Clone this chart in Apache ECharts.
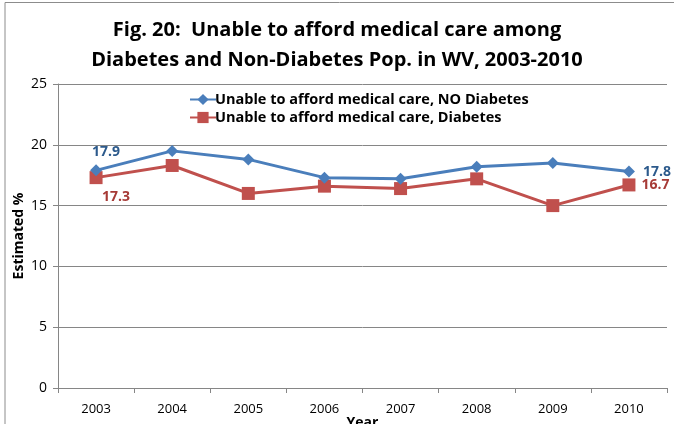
<!DOCTYPE html>
<html>
<head>
<meta charset="utf-8">
<script src="https://cdn.jsdelivr.net/npm/echarts@6/dist/echarts.min.js"></script>
<style>
  html, body { margin: 0; padding: 0; background: #fff; }
  #chart { width: 674px; height: 424px; }
</style>
</head>
<body>
<div id="chart"></div>
<script>
// Survey years on the category axis
const years = ['2003', '2004', '2005', '2006', '2007', '2008', '2009', '2010'];
// Estimated % unable to afford medical care
const noDiabetes = [17.9, 19.5, 18.8, 17.3, 17.2, 18.2, 18.5, 17.8];
const withDiabetes = [17.3, 18.3, 16.0, 16.6, 16.4, 17.2, 15.0, 16.7];
const seriesNames = [
  'Unable to afford medical care, NO Diabetes',
  'Unable to afford medical care, Diabetes'
];

const FONT = '"Open Sans", "Liberation Sans", sans-serif';
const BLUE = '#4A7EBB';
const RED = '#C0504D';
const BLUE_TEXT = '#2C5A8C';
const RED_TEXT = '#A63A36';

// Only the first and last points carry value labels
function endLabels(color, firstPos, lastPos, firstOffset, lastOffset) {
  return function (values) {
    return values.map((v, i) => {
      const item = { value: v };
      if (i === 0 || i === values.length - 1) {
        item.label = {
          show: true,
          position: i === 0 ? firstPos : lastPos,
          offset: i === 0 ? firstOffset : lastOffset,
          color: color,
          fontFamily: FONT,
          fontWeight: 'bold',
          fontSize: 14,
          formatter: (p) => p.value.toFixed(1)
        };
      }
      return item;
    });
  };
}

const chart = echarts.init(document.getElementById('chart'));
chart.setOption({
  animation: false,
  backgroundColor: '#fff',
  title: {
    text: 'Fig. 20:  Unable to afford medical care among\nDiabetes and Non-Diabetes Pop. in WV, 2003-2010',
    left: 'center',
    top: 10,
    textStyle: {
      fontFamily: FONT,
      fontWeight: 'bold',
      fontSize: 20,
      lineHeight: 30,
      color: '#000'
    }
  },
  graphic: [{
    type: 'polyline',
    shape: { points: [[5, 424], [5, 2.5], [674, 2.5]] },
    style: { stroke: '#8c8c8c', lineWidth: 1, fill: null },
    silent: true
  }],
  legend: {
    orient: 'vertical',
    left: 184,
    top: 87,
    itemGap: 3,
    itemWidth: 26,
    itemHeight: 14,
    textStyle: {
      fontFamily: FONT,
      fontWeight: 'bold',
      fontSize: 14.5,
      color: '#000',
      padding: [0, 0, 0, -6]
    },
    data: seriesNames
  },
  grid: { left: 58, right: 7, top: 84, bottom: 36, outerBoundsMode: 'none', containLabel: false },
  xAxis: {
    type: 'category',
    data: years,
    boundaryGap: true,
    name: 'Year',
    nameLocation: 'middle',
    nameGap: 28,
    nameMoveOverlap: false,
    nameTextStyle: { fontFamily: FONT, fontWeight: 'bold', fontSize: 14, color: '#000' },
    axisLine: { lineStyle: { color: '#868686', width: 1 } },
    axisTick: { show: true, length: 5, lineStyle: { color: '#868686' } },
    axisLabel: { fontFamily: FONT, fontSize: 13, color: '#000', margin: 15 }
  },
  yAxis: {
    type: 'value',
    min: 0,
    max: 25,
    interval: 5,
    name: 'Estimated %',
    nameLocation: 'middle',
    nameGap: 32,
    nameMoveOverlap: false,
    nameTextStyle: { fontFamily: FONT, fontWeight: 'bold', fontSize: 14, color: '#000' },
    axisLine: { show: true, lineStyle: { color: '#868686', width: 1 } },
    axisTick: { show: true, length: 5, lineStyle: { color: '#868686' } },
    axisLabel: { fontFamily: FONT, fontSize: 14, color: '#000', margin: 11 },
    splitLine: { lineStyle: { color: '#868686', width: 1 } }
  },
  series: [
    {
      name: seriesNames[0],
      type: 'line',
      data: endLabels(BLUE_TEXT, 'top', 'right', [10, 0], [3, 0])(noDiabetes),
      symbol: 'diamond',
      symbolSize: 12,
      lineStyle: { color: BLUE, width: 3 },
      itemStyle: { color: BLUE },
      z: 3
    },
    {
      name: seriesNames[1],
      type: 'line',
      data: endLabels(RED_TEXT, 'bottom', 'right', [20, 1], [1, 0])(withDiabetes),
      symbol: 'rect',
      symbolSize: 13,
      lineStyle: { color: RED, width: 3 },
      itemStyle: { color: RED },
      z: 2
    }
  ]
});
</script>
</body>
</html>
